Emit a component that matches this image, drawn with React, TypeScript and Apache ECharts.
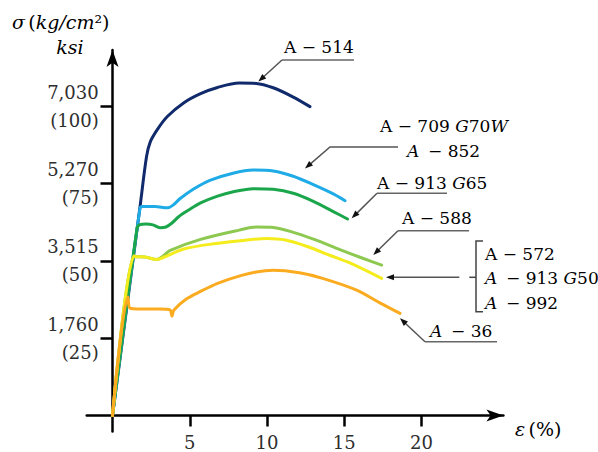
import React, { useEffect, useRef } from 'react';
import * as echarts from 'echarts';

// strain (%) , stress (ksi)
const a514: [number, number][] = [
  [0, 0], [1.78, 67.4], [2.2, 83.6], [2.45, 88.5], [2.9, 92.4], [3.55, 96.6], [4.6, 101.0],
  [5.7, 104.0], [6.8, 106.0], [8.2, 107.4], [9.3, 107.3], [10.4, 105.9], [11.7, 102.9], [12.78, 99.8],
];
const a709: [number, number][] = [
  [0, 0], [1.78, 67.0], [1.97, 67.5], [2.75, 67.5], [3.55, 67.1], [3.9, 67.9], [4.4, 70.2],
  [5.25, 73.2], [6.3, 76.0], [7.8, 78.3], [9.1, 79.3], [10.4, 79.0], [11.7, 77.3], [13.0, 74.6],
  [14.29, 71.6], [15.05, 69.4],
];
const a913g65: [number, number][] = [
  [0, 0], [1.59, 60.6], [1.78, 61.7], [2.17, 61.9], [2.62, 61.6], [3.07, 60.7], [3.46, 60.9],
  [3.85, 62.2], [4.3, 64.3], [4.9, 66.3], [5.7, 68.7], [6.8, 70.9], [7.82, 72.3], [9.1, 73.3],
  [10.41, 73.1], [11.7, 71.8], [13.0, 69.2], [14.29, 65.9], [15.21, 63.5],
];
const a588: [number, number][] = [
  [0, 0], [1.39, 51.5], [1.52, 51.3], [2.1, 51.2], [2.88, 50.4], [3.3, 51.6], [3.7, 53.3],
  [5.7, 56.9], [8.2, 59.9], [9.3, 60.9], [10.3, 60.8], [11.5, 59.5], [13.1, 56.8],
  [14.72, 53.6], [16.15, 50.9], [17.42, 48.6],
];
const a572: [number, number][] = [
  [0, 0], [1.39, 51.5], [1.52, 51.3], [2.1, 51.2], [2.88, 50.4], [3.4, 51.3], [4.6, 53.8],
  [6.7, 55.6], [8.3, 56.5], [10.0, 57.2], [11.2, 56.7], [12.6, 54.6], [14.1, 51.7],
  [15.4, 49.2], [17.42, 44.3],
];
const a36: [number, number][] = [
  [0, 0], [1.0, 38.3], [1.13, 34.7], [1.78, 34.4], [3.07, 34.4], [3.72, 34.1], [3.85, 32.1],
  [3.98, 34.1], [4.8, 37.7], [5.7, 40.1], [6.8, 42.7], [8.3, 45.2], [9.3, 46.4], [10.4, 46.9],
  [12.1, 46.1], [13.6, 44.3], [15.8, 40.5], [17.3, 36.4], [18.61, 33.0],
];

const xTickValues = [5, 10, 15, 20];
const yTickValues = [25, 50, 75, 100];
const yTickKg = ['1,760', '3,515', '5,270', '7,030'];

const seriesNames = ['A-514', 'A-709 G70W / A-852', 'A-913 G65', 'A-588', 'A-572 / A-913 G50 / A-992', 'A-36'];
const seriesColors = ['#102a6b', '#1eabe6', '#1ba64b', '#8dc850', '#f4ec1c', '#fbab1f'];
const seriesData = [a514, a709, a913g65, a588, a572, a36];

// annotation arrow tips, in data coordinates (strain %, ksi)
const tipA514: [number, number] = [9.44, 107.9];
const tipA709: [number, number] = [12.46, 79.8];
const tipG65: [number, number] = [15.48, 63.7];
const tipA588: [number, number] = [16.88, 51.9];
const tipA572: [number, number] = [17.7, 44.7];
const tipA36: [number, number] = [18.61, 31.4];

const SERIF = '"DejaVu Serif", "Liberation Serif", serif';
const TXT = '#2e2e2e';

export default function App() {
  const ref = useRef<HTMLDivElement>(null);
  useEffect(() => {
    if (!ref.current) return;
    const chart = echarts.init(ref.current, undefined, { renderer: 'svg' });
    const axisLineStyle = { color: '#000', width: 2.5 };
    chart.setOption({
      animation: false,
      backgroundColor: '#fff',
      grid: { left: 86.7, top: 50, width: 416.7, height: 381.6, containLabel: false, outerBoundsMode: 'none' },
      xAxis: {
        type: 'value', min: -1.67, max: 25.3,
        axisLine: { show: true, onZero: true, symbol: ['none', 'arrow'], symbolSize: [9, 17], lineStyle: axisLineStyle },
        axisTick: { show: true, customValues: xTickValues, length: 11, lineStyle: axisLineStyle },
        axisLabel: { customValues: xTickValues, margin: 2, fontFamily: SERIF, fontSize: 18, color: TXT },
        splitLine: { show: false },
      },
      yAxis: {
        type: 'value', min: -5.2, max: 118.1,
        axisLine: { show: true, onZero: true, symbol: ['none', 'arrow'], symbolSize: [9, 17], lineStyle: axisLineStyle },
        axisTick: { show: true, customValues: yTickValues, length: 12, lineStyle: axisLineStyle },
        axisLabel: {
          customValues: yTickValues, margin: -12, fontFamily: SERIF, fontSize: 18, color: TXT, lineHeight: 28,
          padding: [4, 0, 0, 0],
          formatter: (v: number) => `${yTickKg[yTickValues.indexOf(v)]}\n(${v})`,
        },
        splitLine: { show: false },
      },
      series: seriesData.map((d, i) => ({
        name: seriesNames[i], type: 'line', data: d, showSymbol: false, smooth: 0.3,
        lineStyle: { color: seriesColors[i], width: 3, join: 'round', cap: 'round' }, itemStyle: { color: seriesColors[i] }, silent: true, z: 2 + i,
      })),
    });

    const px = (p: [number, number]) => chart.convertToPixel({ gridIndex: 0 }, p) as number[];
    const gray = '#555';
    const leader = (pts: number[][], tip: number[]) => {
      const last = pts[pts.length - 1];
      const dx = tip[0] - last[0], dy = tip[1] - last[1];
      const len = Math.hypot(dx, dy);
      const ux = dx / len, uy = dy / len;
      const L = 8, W = 3;
      const bx = tip[0] - ux * L, by = tip[1] - uy * L;
      return [
        { type: 'polyline', shape: { points: [...pts, [bx + ux * 2, by + uy * 2]] }, style: { stroke: gray, lineWidth: 1.5, fill: null } },
        { type: 'polygon', shape: { points: [tip, [bx - uy * W, by + ux * W], [bx + uy * W, by - ux * W]] }, style: { fill: '#111' } },
      ];
    };
    const uline = (x1: number, x2: number, y: number) => ({ type: 'line', shape: { x1, y1: y, x2, y2: y }, style: { stroke: '#666', lineWidth: 1.5 } });
    const rich = {
      r: { fontFamily: SERIF, fontSize: 17, color: TXT },
      i: { fontFamily: SERIF, fontSize: 17, color: TXT, fontStyle: 'italic' },
    };
    const label = (x: number, y: number, text: string) => ({
      type: 'text', x, y, style: { text, rich, verticalAlign: 'middle', align: 'left' },
    });
    const axRich = {
      r: { fontFamily: SERIF, fontSize: 19, color: TXT },
      i: { fontFamily: SERIF, fontSize: 19, color: TXT, fontStyle: 'italic' },
    };

    const graphic: any[] = [
      { type: 'text', x: 12, y: 22, style: { text: '{i|σ} {r|(}{i|kg/cm}{r|²)}', rich: axRich, verticalAlign: 'middle' } },
      { type: 'text', x: 70, y: 47, style: { text: '{i|ksi}', rich: axRich, verticalAlign: 'middle', align: 'center' } },
      { type: 'text', x: 515, y: 429, style: { text: '{i|ε} {r|(%)}', rich: axRich, verticalAlign: 'middle' } },

      label(284, 47, '{r|A − 514}'), uline(282, 354, 60), ...leader([[282, 60]], px(tipA514)),

      label(380, 126, '{r|A − 709 }{i|G}{r|70}{i|W}'),
      label(407, 151, '{i|A} {r| − 852}'),
      ...leader([[398, 147], [330, 147]], px(tipA709)),

      label(377, 182.7, '{r|A − 913 }{i|G}{r|65}'), uline(377, 447, 193.3), ...leader([[377, 193.3]], px(tipG65)),

      label(402, 218.3, '{r|A − 588}'), uline(398, 469, 230.7), ...leader([[398, 230.7]], px(tipA588)),

      label(485, 254.3, '{r|A − 572}'),
      label(485, 278.3, '{i|A} {r| − 913 }{i|G}{r|50}'),
      label(485, 302.7, '{i|A} {r| − 992}'),
      { type: 'polyline', shape: { points: [[483, 241], [476, 241], [476, 311.7], [483, 311.7]] }, style: { stroke: '#444', lineWidth: 1.5, fill: null } },
      { type: 'line', shape: { x1: 469.3, y1: 277.3, x2: 476, y2: 277.3 }, style: { stroke: '#444', lineWidth: 1.5 } },
      ...leader([[459.3, 277.3]], px(tipA572)),

      label(430, 330.7, '{i|A} {r| − 36}'), uline(425, 497, 341.7), ...leader([[425, 341.7]], px(tipA36)),
    ];
    chart.setOption({ graphic });
    return () => chart.dispose();
  }, []);
  return <div ref={ref} style={{ position: 'fixed', left: 0, top: 0, width: 598, height: 452, background: '#fff' }} />;
}
